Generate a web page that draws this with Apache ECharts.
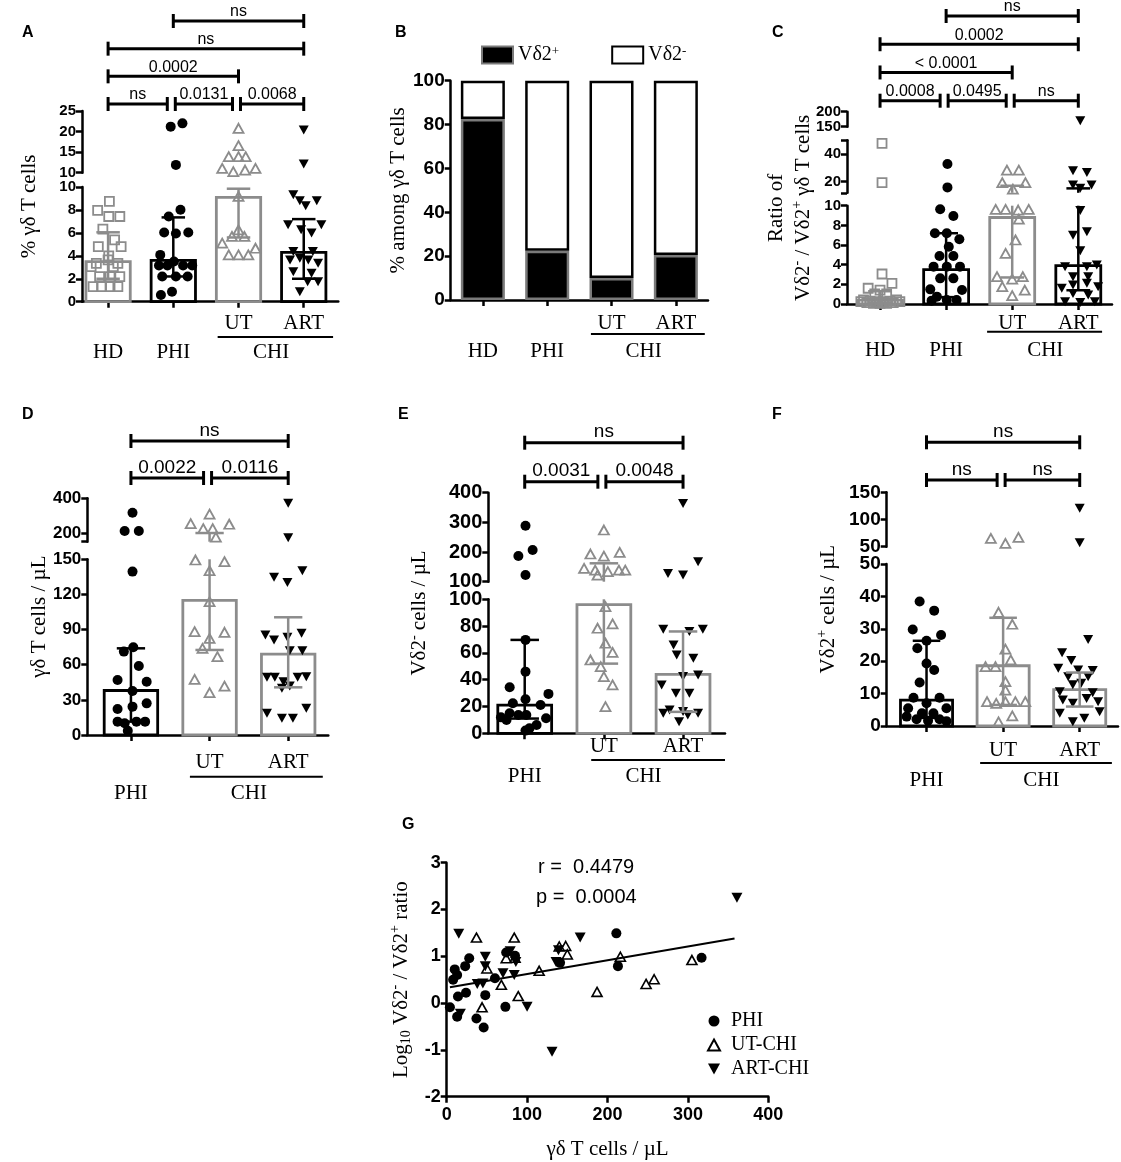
<!DOCTYPE html>
<html><head><meta charset="utf-8">
<script src="https://cdn.jsdelivr.net/npm/echarts@6.0.0/dist/echarts.min.js"></script>
<style>html,body{margin:0;padding:0;background:#fff}#c{width:1121px;height:1162px}</style>
</head><body><div id="c"></div>
<script>
// ================= DATA =================
const catsAC = ['HD', 'PHI', 'UT', 'ART'];
const catsDEF = ['PHI', 'UT', 'ART'];

// Panel A : % γδ T cells
const aHD = [8.75, 7.96, 7.43, 7.43, 6.33, 5.39, 4.81, 4.81, 3.99, 3.64, 3.35, 3.35, 3.06, 3.06, 2.19, 2.19, 2.19, 1.31, 1.31, 1.31, 1.31];
const aHDJit = [0.02, -0.16, 0.01, 0.18, -0.08, 0.10, -0.15, 0.20, 0.01, 0.0, -0.18, 0.15, -0.26, 0.08, -0.13, 0.03, 0.18, -0.23, -0.1, 0.03, 0.15];
const aPHI = [21.2, 22.0, 11.9, 8.02, 7.43, 6.03, 5.95, 6.03, 4.08, 3.15, 3.15, 3.5, 3.15, 3.15, 2.19, 2.19, 2.19, 0.58, 0.87];
const aPHIJit = [-0.04, 0.14, 0.04, 0.11, -0.07, -0.14, 0.04, 0.23, -0.2, -0.22, -0.09, 0.01, 0.15, 0.29, -0.17, 0.04, 0.22, -0.19, -0.02];
const aUT = [20.8, 16.6, 13.9, 13.9, 13.9, 11.05, 10.25, 10.65, 11.05, 9.18, 6.27, 5.69, 5.69, 5.1, 4.66, 4.08, 4.08, 4.08];
const aUTJit = [0, 0, -0.15, 0, 0.11, -0.25, -0.08, 0.1, 0.26, 0, 0, -0.1, 0.09, -0.25, 0.26, -0.15, 0, 0.15];
const aART = [20.4, 12.1, 9.33, 8.8, 8.8, 8.37, 6.71, 6.27, 6.71, 5.98, 4.37, 4.37, 3.64, 3.79, 3.64, 3.35, 2.62, 2.48, 1.75, 1.75, 0.87];
const aARTJit = [0, 0, -0.16, -0.06, 0.2, 0.03, -0.24, -0.04, 0.27, 0.12, -0.16, 0.14, -0.21, -0.06, 0.07, 0.22, -0.16, 0.12, 0.22, 0.06, -0.06];
const aMedian = [3.5, 3.6, 9.1, 4.3];
const aErrLo = [2.0, 2.2, 5.6, 2.0];
const aErrHi = [6.05, 7.35, 9.85, 7.2];
const aBrackets = [[0, 1, 0, 'ns'], [1, 2, 0, '0.0131'], [2, 3, 0, '0.0068'], [0, 2, 1, '0.0002'], [0, 3, 2, 'ns'], [1, 3, 3, 'ns']];
const aLowTicks = [0, 2, 4, 6, 8, 10];
const aHighTicks = [10, 15, 20, 25];

// Panel B : % among γδ T cells
const bPos = [82.5, 22.5, 10, 20.5];
const bNeg = [17.5, 77.5, 90, 79.5];
const bTicks = [0, 20, 40, 60, 80, 100];

// Panel C : ratio Vδ2- / Vδ2+
const cHD = [47.7, 19.3, 3.05, 2.1, 1.6, 1.42, 1.02, 1.02, 0.41, 0.3, 0.24, 0.24, 0.3, 0.41, 0.24, 0.14, 0.07, 0.07, 0.07, 0.14, 0.24];
const cHDJit = [0.03, 0.03, 0.03, 0.18, -0.18, 0, -0.08, 0.1, -0.25, -0.15, -0.05, 0.05, 0.15, 0.25, 0.3, -0.2, -0.1, 0, 0.1, 0.2, -0.29];
const cPHI = [32.8, 15.9, 9.63, 8.95, 7.19, 7.19, 6.58, 5.83, 4.88, 4.88, 3.8, 3.8, 3.8, 2.61, 2.61, 1.49, 1.42, 0.75, 0.41, 0.41, 0.34];
const cPHIJit = [0.02, 0.02, -0.09, 0.11, -0.17, 0.01, 0.2, 0.04, -0.1, 0.11, -0.19, 0.01, 0.21, -0.09, 0.11, -0.24, 0.24, -0.14, 0.01, 0.16, -0.22];
const cUT = [28.4, 28.4, 19.3, 19.3, 14.7, 9.63, 9.63, 9.56, 9.63, 8.64, 6.51, 5.15, 2.78, 2.54, 2.78, 1.76, 1.42, 0.85];
const cUTJit = [-0.08, 0.1, -0.15, 0.2, 0.01, -0.25, -0.1, 0.09, 0.25, 0.1, 0.05, -0.1, -0.23, 0, 0.16, -0.15, 0.19, 0];
const cART = [170, 28, 26.7, 17.6, 17.6, 15.2, 9.5, 7.0, 7.36, 5.42, 3.8, 3.97, 3.8, 2.78, 2.78, 1.6, 1.93, 2.1, 1.76, 1.08, 0.92, 0.24, 0.14, 0.24];
const cARTJit = [0.03, -0.08, 0.13, -0.08, 0.2, 0.03, 0.03, -0.08, 0.13, 0.03, -0.2, 0.28, 0.13, -0.08, 0.15, -0.25, -0.08, 0.13, 0.3, -0.08, 0.15, -0.2, 0.03, 0.25];
const cMedian = [0.4, 3.5, 8.8, 3.9];
const cErrLo = [0.15, 0.7, 2.7, 1.4];
const cErrHi = [1.3, 7.2, 17.1, 15.2];
const cBrackets = [[0, 1, 0, '0.0008'], [1, 2, 0, '0.0495'], [2, 3, 0, 'ns'], [0, 2, 1, '< 0.0001'], [0, 3, 2, '0.0002'], [1, 3, 3, 'ns']];
const cLowTicks = [0, 2, 4, 6, 8, 10];
const cMidTicks = [20, 40];
const cTopTicks = [150, 200];

// Panel D : γδ T cells / µL
const dPHI = [316.5, 211.7, 211.7, 139.5, 71.2, 74.9, 58.9, 47, 45.5, 37.6, 22.2, 24.2, 27, 11.4, 10, 11.4, 11.4, 3.7];
const dPHIJit = [0.02, -0.08, 0.1, 0.02, -0.09, 0.03, 0.1, -0.17, 0.2, 0.02, -0.17, 0.02, 0.2, -0.17, -0.08, 0.07, 0.18, -0.04];
const dUT = [308.7, 254.4, 250.5, 225.2, 225.2, 176.7, 149.4, 148, 140.3, 113.9, 88.2, 87.7, 82.5, 74, 66.9, 47.5, 41.8, 36.2];
const dUTJit = [0, -0.24, 0.25, -0.08, 0.04, 0.08, -0.18, 0.19, 0, 0, -0.19, 0.19, 0, -0.09, 0.1, -0.19, 0.19, 0];
const dART = [370.9, 172.8, 140.3, 134.6, 130.1, 85.4, 81.1, 83.4, 86.8, 72, 72, 49.2, 49.2, 45.5, 41.8, 49.2, 49.8, 39.9, 22.8, 18.5, 14.2, 14.2];
const dARTJit = [0, 0, 0.18, -0.18, -0.01, -0.29, -0.18, -0.01, 0.17, 0.02, 0.18, -0.27, -0.17, -0.06, 0.02, 0.12, 0.23, -0.08, 0.23, -0.27, -0.08, 0.06];
const dMedian = [38, 115, 69];
const dErrLo = [11.4, 72.6, 40.7];
const dErrHi = [74, 200, 100.5];
const dBrackets = [[0, 1, 0, '0.0022'], [1, 2, 0, '0.0116'], [0, 2, 1, 'ns']];
const dLowTicks = [0, 30, 60, 90, 120, 150];
const dHighTicks = [200, 400];

// Panel E : Vδ2- cells / µL
const ePHI = [288.8, 186.5, 206.7, 122.5, 69.7, 46, 34.3, 29.4, 25.4, 22.4, 21.1, 14.9, 13.7, 13.7, 11.9, 11.2, 10, 6.2, 3.7, 2];
const ePHIJit = [0.01, -0.08, 0.1, 0.01, 0.01, 0.01, -0.19, 0.3, 0.01, -0.15, 0.2, -0.19, -0.08, 0.02, -0.3, 0.27, -0.23, 0.15, 0.06, 0.01];
const eUT = [274.2, 193.3, 186.5, 198.9, 144.9, 139.3, 133.7, 139.3, 139.3, 122.5, 94.5, 78.4, 81.6, 67.2, 54.7, 60.4, 49.8, 42.3, 36.1, 19.9];
const eUTJit = [0, -0.17, 0, 0.2, -0.25, -0.11, 0.05, 0.19, 0.27, -0.08, 0.02, -0.08, 0.11, 0.02, -0.17, 0.11, -0.04, 0, 0.11, 0.02];
const eART = [364, 128, 122.5, 167.4, 77.6, 77.6, 75.9, 65.9, 56, 58.5, 36.1, 42.3, 43.5, 29.9, 29.9, 17.4, 16.2, 14.9, 14.9, 13.7, 8.7];
const eARTJit = [0, -0.19, 0, 0.19, -0.25, 0.25, 0.08, -0.12, 0.13, -0.08, -0.27, 0, 0.19, -0.09, 0.08, -0.17, 0, -0.25, 0.19, 0.06, -0.05];
const eMedian = [21, 96, 44];
const eErrLo = [11, 52, 16];
const eErrHi = [69.7, 162, 76];
const eBrackets = [[0, 1, 0, '0.0031'], [1, 2, 0, '0.0048'], [0, 2, 1, 'ns']];
const eLowTicks = [0, 20, 40, 60, 80, 100];
const eHighTicks = [100, 200, 300, 400];

// Panel F : Vδ2+ cells / µL
const fPHI = [38.4, 35.6, 29.8, 28.1, 26.3, 24, 19.3, 17.3, 13.4, 8.7, 8.7, 7, 5.5, 5.5, 3.9, 3.9, 2.9, 2.1, 1.6, 2.1, 1.5];
const fPHIJit = [-0.09, 0.1, -0.18, 0.19, 0, -0.12, 0, 0.1, -0.09, -0.17, 0.17, 0, -0.24, 0.26, -0.06, 0.09, -0.26, -0.13, 0.02, 0.17, 0.26];
const fUT = [65.3, 56.1, 67.2, 35.1, 31.4, 23.7, 18.3, 18.3, 20.4, 13.7, 11.1, 7.5, 7, 7.5, 7.5, 7.5, 3.1, 1.3];
const fUTJit = [-0.16, 0.03, 0.2, -0.06, 0.12, 0.03, -0.23, -0.1, 0.1, 0.03, 0.03, -0.21, -0.09, 0.03, 0.16, 0.29, 0.12, -0.06];
const fART = [120.6, 57.4, 26.7, 22.6, 20.2, 17.8, 17.3, 17.1, 15.2, 15.2, 13.2, 12.7, 10.6, 10.3, 8, 8.5, 7.5, 7, 3.9, 4.4, 2.4, 1.3];
const fARTJit = [0, 0, 0.11, -0.23, -0.11, -0.28, -0.02, 0.17, -0.15, 0.11, 0.02, -0.09, -0.26, 0.17, -0.22, 0.09, 0.24, -0.09, -0.26, 0.26, 0.06, -0.09];
const fMedian = [8, 18.6, 11.2];
const fErrLo = [2.5, 6.5, 6];
const fErrHi = [26.3, 33.4, 16.5];
const fBrackets = [[0, 1, 0, 'ns'], [1, 2, 0, 'ns'], [0, 2, 1, 'ns']];
const fLowTicks = [0, 10, 20, 30, 40, 50];
const fHighTicks = [50, 100, 150];

// Panel G : correlation
const gPHIx = [4, 10, 13, 8, 14, 13, 24, 23, 28, 37, 48, 46, 60, 73, 74, 85, 141, 211, 213, 317];
const gPHIy = [-0.09, 0.72, 0.6, 0.5, 0.14, -0.29, 0.22, 0.79, 0.96, -0.33, 0.17, -0.52, 0.53, -0.08, 1.08, 1.01, 0.86, 1.49, 0.79, 0.97];
const gUTx = [37, 84, 85, 74, 50, 68, 44, 89, 115, 140, 148, 150, 187, 216, 248, 258, 305];
const gUTy = [1.40, 1.40, 0.97, 0.96, 0.74, 0.39, -0.09, 0.15, 0.69, 1.21, 1.22, 1.04, 0.24, 0.99, 0.41, 0.51, 0.92];
const gARTx = [15, 17, 48, 48, 38, 45, 70, 84, 79, 86, 100, 131, 136, 139, 166, 361];
const gARTy = [1.48, -0.23, 0.99, 0.79, 0.41, 0.42, 0.64, 0.6, 1.11, 0.88, -0.08, -1.04, 0.88, 1.13, 1.40, 2.25];
const gFitX = [4, 358];
const gFitY = [0.34, 1.38];
const gYTicks = [-2, -1, 0, 1, 2, 3];

// ================= STYLE / BUILD =================
const FS = 'Liberation Sans, Arial, sans-serif';
const FR = 'Liberation Serif, Times New Roman, serif';
const GRAY = '#8c8c8c';
const INV = 'path://M0,0L10,0L5,9Z';
const BW = 0.68, CAP = 0.18;
const NAME_FS = 21, CAT_FS = 21;
const axisLine = () => ({ color: '#000', width: 2.5 });
const CLEAR = 'rgba(0,0,0,0)';

const symStyles = {
  HD: { symbol: 'rect', size: 9, item: { color: CLEAR, borderColor: GRAY, borderWidth: 1.8, opacity: 1 } },
  PHI: { symbol: 'circle', size: 10, item: { color: '#000', opacity: 1 } },
  UT: { symbol: 'triangle', size: [10, 9], item: { color: CLEAR, borderColor: GRAY, borderWidth: 1.8, opacity: 1 } },
  ART: { symbol: INV, size: [10, 9], item: { color: '#000', opacity: 1 } }
};

const option = {
  animation: false, backgroundColor: '#ffffff',
  grid: [], xAxis: [], yAxis: [], series: [], legend: [], graphic: []
};
function addGrid(l, t, r, b) {
  option.grid.push({ left: l, top: t, width: r - l, height: b - t, outerBoundsMode: 'none', containLabel: false });
  return option.grid.length - 1;
}
function yAxisStyle(labels, ticks, fs) {
  return {
    axisLine: { show: true, onZero: false, lineStyle: axisLine() },
    axisTick: { show: true, customValues: ticks || labels, length: 6, lineStyle: axisLine() },
    axisLabel: { show: true, customValues: labels, margin: 6, fontFamily: FS, fontWeight: 'bold', fontSize: fs || 15, color: '#000' },
    splitLine: { show: false }
  };
}
function catFormatter(cats) {
  return (v) => {
    const c = cats[Math.round(v)];
    return (c === 'UT' || c === 'ART') ? '{s|' + c + '}' : '{m|' + c + '}';
  };
}
function catRich(p) {
  return {
    s: { fontFamily: FR, fontSize: CAT_FS, color: '#000', lineHeight: 2 * p.subOff },
    m: { fontFamily: FR, fontSize: CAT_FS, color: '#000', lineHeight: 2 * p.mainOff }
  };
}
const nameRich = {
  sup: { fontFamily: FR, fontSize: 14, color: '#000', verticalAlign: 'top', lineHeight: 25 },
  sub: { fontFamily: FR, fontSize: 14, color: '#000', verticalAlign: 'bottom', lineHeight: 25 }
};

function addChi(p, xi, yi) {
  option.series.push({
    type: 'custom', xAxisIndex: xi, yAxisIndex: yi, z: 5, silent: true, data: [[0, 0]],
    renderItem: (params, api) => {
      const u = p.cats.indexOf('UT'), r = p.cats.indexOf('ART');
      const cu = api.coord([u, p.baseVal]), cr = api.coord([r, p.baseVal]);
      const band = cr[0] - cu[0];
      const x1 = cu[0] + p.chi[0] * band, x2 = cr[0] + p.chi[1] * band, y0 = cu[1];
      return {
        type: 'group', children: [
          { type: 'line', shape: { x1: x1, y1: y0 + p.lineOff, x2: x2, y2: y0 + p.lineOff }, style: { stroke: '#000', lineWidth: 2 } },
          { type: 'text', style: { text: 'CHI', x: (cu[0] + cr[0]) / 2, y: y0 + p.mainOff, align: 'center', verticalAlign: 'middle', font: CAT_FS + 'px ' + FR, fill: '#000' } }
        ]
      };
    }
  });
}

function addBrackets(p) {
  const gb = addGrid(p.left, p.brTop, p.right, p.brBot);
  const nLev = Math.max.apply(null, p.brackets.map(b => b[2]));
  option.xAxis.push({ gridIndex: gb, type: 'value', min: p.xMin, max: p.xMax, show: false });
  option.yAxis.push({ gridIndex: gb, type: 'value', min: 0, max: nLev, show: false });
  const xi = option.xAxis.length - 1, yi = option.yAxis.length - 1;
  option.series.push({
    type: 'custom', xAxisIndex: xi, yAxisIndex: yi, z: 5, silent: true,
    data: p.brackets.map(b => [b[0], b[2], b[1]]),
    renderItem: (params, api) => {
      const b = p.brackets[params.dataIndex];
      const L = b[2];
      const sharedL = p.brackets.some(o => o !== b && o[2] === L && o[1] === b[0]);
      const sharedR = p.brackets.some(o => o !== b && o[2] === L && o[0] === b[1]);
      const a = api.coord([b[0], L]), c = api.coord([b[1], L]);
      const x1 = a[0] + (sharedL ? 2 : 0), x2 = c[0] - (sharedR ? 6 : 0), y = a[1];
      const st = () => ({ stroke: '#000', lineWidth: 3 });
      return {
        type: 'group', children: [
          { type: 'line', shape: { x1: x1, y1: y, x2: x2, y2: y }, style: st() },
          { type: 'line', shape: { x1: x1, y1: y - 7, x2: x1, y2: y + 7 }, style: st() },
          { type: 'line', shape: { x1: x2, y1: y - 7, x2: x2, y2: y + 7 }, style: st() },
          { type: 'text', style: { text: b[3], x: (x1 + x2) / 2, y: y - 1, align: 'center', verticalAlign: 'bottom', font: p.brFont + 'px ' + FS, fill: '#000' } }
        ]
      };
    }
  });
}

function addYName(p, top, bottom) {
  const gf = addGrid(p.left, top, p.right, bottom);
  option.xAxis.push({ gridIndex: gf, type: 'value', show: false });
  option.yAxis.push({
    gridIndex: gf, type: 'value', min: 0, max: 1,
    axisLine: { show: false }, axisTick: { show: false }, axisLabel: { show: false }, splitLine: { show: false },
    name: p.yName, nameLocation: 'middle', nameGap: p.nameGap, nameRotate: 90,
    nameTextStyle: { fontFamily: FR, fontSize: NAME_FS, color: '#000', lineHeight: p.nameLH || 25, rich: nameRich }
  });
}

function buildPanel(p) {
  const idx = p.cats.map((_, i) => i);
  const last = p.segs.length - 1;
  let lowX, lowY;
  p.segs.forEach((s, si) => {
    const g = addGrid(p.left, s.top, p.right, s.bottom);
    const lower = si === 0;
    option.xAxis.push({
      gridIndex: g, type: 'value', min: p.xMin, max: p.xMax, show: lower,
      axisLine: { show: true, onZero: false, lineStyle: axisLine() },
      axisTick: { show: true, customValues: idx, length: 6, lineStyle: axisLine() },
      axisLabel: { show: true, customValues: idx, margin: 0, formatter: catFormatter(p.cats), rich: catRich(p) },
      splitLine: { show: false }
    });
    option.yAxis.push(Object.assign({ gridIndex: g, type: 'value', min: s.min, max: s.max }, yAxisStyle(s.labels, s.ticks, p.tickFont)));
    const xi = option.xAxis.length - 1, yi = option.yAxis.length - 1;
    if (lower) { lowX = xi; lowY = yi; }
    // median bars
    option.series.push({
      type: 'custom', xAxisIndex: xi, yAxisIndex: yi, z: 2, silent: true,
      data: p.groups.map((gr, i) => [i, gr.med]),
      renderItem: (params, api) => {
        const i = api.value(0), v = api.value(1);
        const lo = Math.max(s.min, 0), hi = Math.min(v, s.max);
        if (!(hi > lo)) return null;
        const a = api.coord([i - BW / 2, hi]), b = api.coord([i + BW / 2, lo]);
        return { type: 'rect', shape: { x: a[0], y: a[1], width: b[0] - a[0], height: b[1] - a[1] }, style: { fill: 'none', stroke: p.groups[i].color, lineWidth: 2.8 } };
      }
    });
    // points
    p.groups.forEach((gr, gi) => {
      const st = symStyles[gr.key];
      const data = [];
      gr.v.forEach((v, k) => {
        const inLow = si === 0 ? v >= s.min : v > s.min;
        const inHigh = si === last ? true : v <= s.max;
        if (inLow && inHigh) data.push([gi + gr.j[k], v]);
      });
      option.series.push({
        type: 'scatter', xAxisIndex: xi, yAxisIndex: yi, z: 3, silent: true,
        symbol: st.symbol, symbolSize: st.size, itemStyle: st.item, data: data
      });
    });
    // IQR whiskers
    option.series.push({
      type: 'custom', xAxisIndex: xi, yAxisIndex: yi, z: 4, silent: true,
      data: p.groups.map((gr, i) => [i, gr.lo, gr.hi]),
      renderItem: (params, api) => {
        const i = api.value(0), lo = api.value(1), hi = api.value(2);
        const col = p.groups[i].color;
        const ch = [];
        const a = Math.max(lo, s.min), b = Math.min(hi, s.max);
        if (b > a) {
          const p1 = api.coord([i, a]), p2 = api.coord([i, b]);
          ch.push({ type: 'line', shape: { x1: p1[0], y1: p1[1], x2: p2[0], y2: p2[1] }, style: { stroke: col, lineWidth: 2.5 } });
        }
        [lo, hi].forEach(v => {
          if (v >= s.min && v <= s.max) {
            const l = api.coord([i - CAP, v]), r = api.coord([i + CAP, v]);
            ch.push({ type: 'line', shape: { x1: l[0], y1: l[1], x2: r[0], y2: r[1] }, style: { stroke: col, lineWidth: 2.5 } });
          }
        });
        return { type: 'group', children: ch };
      }
    });
  });
  addChi(p, lowX, lowY);
  addYName(p, p.segs[last].top, p.segs[0].bottom);
  addBrackets(p);
}

function groups(keys, vals, jits, med, lo, hi, colors) {
  return keys.map((k, i) => ({ key: k, v: vals[i], j: jits[i], med: med[i], lo: lo[i], hi: hi[i], color: colors[i] }));
}

// ---- Panel A
buildPanel({
  cats: catsAC, left: 82, right: 338.3, xMin: -0.4, xMax: 3.53, baseVal: 0, tickFont: 15, brFont: 16,
  segs: [
    { min: 0, max: 10, top: 187, bottom: 301.7, labels: aLowTicks },
    { min: 10, max: 25, top: 111, bottom: 172.7, labels: aHighTicks }
  ],
  groups: groups(catsAC, [aHD, aPHI, aUT, aART], [aHDJit, aPHIJit, aUTJit, aARTJit], aMedian, aErrLo, aErrHi, [GRAY, '#000', GRAY, '#000']),
  subOff: 21.3, mainOff: 50.3, lineOff: 35.3, chi: [-0.32, 0.45],
  brTop: 21, brBot: 104, brackets: aBrackets,
  yName: '% γδ T cells', nameGap: 40
});

// ---- Panel C
buildPanel({
  cats: catsAC, left: 847, right: 1112, xMin: -0.5, xMax: 3.51, baseVal: 0, tickFont: 15, brFont: 16,
  segs: [
    { min: 0, max: 10, top: 205.7, bottom: 304, labels: cLowTicks },
    { min: 12, max: 50, top: 140.2, bottom: 192.8, labels: cMidTicks, ticks: [12, 20, 40, 50] },
    { min: 150, max: 200, top: 111.7, bottom: 126.7, labels: cTopTicks }
  ],
  groups: groups(catsAC, [cHD, cPHI, cUT, cART], [cHDJit, cPHIJit, cUTJit, cARTJit], cMedian, cErrLo, cErrHi, [GRAY, '#000', GRAY, '#000']),
  subOff: 19.3, mainOff: 46, lineOff: 27.7, chi: [-0.38, 0.36],
  brTop: 16, brBot: 100.7, brackets: cBrackets,
  yName: 'Ratio of\nVδ2{sup|-} / Vδ2{sup|+} γδ T cells', nameGap: 30, nameLH: 27
});

// ---- Panel D
buildPanel({
  cats: catsDEF, left: 87.3, right: 328.3, xMin: -0.555, xMax: 2.51, baseVal: 0, tickFont: 17, brFont: 19,
  segs: [
    { min: 0, max: 150, top: 559.3, bottom: 735, labels: dLowTicks },
    { min: 150, max: 400, top: 498.3, bottom: 541.7, labels: dHighTicks, ticks: [150, 200, 400] }
  ],
  groups: groups(catsDEF, [dPHI, dUT, dART], [dPHIJit, dUTJit, dARTJit], dMedian, dErrLo, dErrHi, ['#000', GRAY, GRAY]),
  subOff: 27, mainOff: 58, lineOff: 41.7, chi: [-0.25, 0.44],
  brTop: 441, brBot: 478, brackets: dBrackets,
  yName: 'γδ T cells / µL', nameGap: 35
});

// ---- Panel E
buildPanel({
  cats: catsDEF, left: 488.3, right: 725, xMin: -0.46, xMax: 2.53, baseVal: 0, tickFont: 20, brFont: 19,
  segs: [
    { min: 0, max: 100, top: 599.3, bottom: 733.3, labels: eLowTicks },
    { min: 100, max: 400, top: 492.7, bottom: 581.7, labels: eHighTicks }
  ],
  groups: groups(catsDEF, [ePHI, eUT, eART], [ePHIJit, eUTJit, eARTJit], eMedian, eErrLo, eErrHi, ['#000', GRAY, GRAY]),
  subOff: 13.4, mainOff: 43.4, lineOff: 26.7, chi: [-0.16, 0.53],
  brTop: 442.7, brBot: 481.7, brackets: eBrackets,
  yName: 'Vδ2{sup|-} cells / µL', nameGap: 56
});

// ---- Panel F
buildPanel({
  cats: catsDEF, left: 886.7, right: 1118, xMin: -0.52, xMax: 2.5, baseVal: 0, tickFont: 19, brFont: 19,
  segs: [
    { min: 0, max: 50, top: 564, bottom: 726, labels: fLowTicks },
    { min: 50, max: 150, top: 492.3, bottom: 546.7, labels: fHighTicks }
  ],
  groups: groups(catsDEF, [fPHI, fUT, fART], [fPHIJit, fUTJit, fARTJit], fMedian, fErrLo, fErrHi, ['#000', GRAY, GRAY]),
  subOff: 24, mainOff: 54, lineOff: 37, chi: [-0.3, 0.42],
  brTop: 442.3, brBot: 480, brackets: fBrackets,
  yName: 'Vδ2{sup|+} cells / µL', nameGap: 46
});

// ---- Panel B (stacked bars, category axis)
(function () {
  const p = { cats: catsAC, subOff: 23, mainOff: 51.7, lineOff: 34, chi: [-0.32, 0.45], baseVal: 0 };
  const g = addGrid(450.7, 80.7, 708, 300);
  option.xAxis.push({
    gridIndex: g, type: 'category', data: catsAC, boundaryGap: true,
    axisLine: { show: true, onZero: false, lineStyle: axisLine() },
    axisTick: { show: true, alignWithLabel: true, length: 6, lineStyle: axisLine() },
    axisLabel: { margin: 0, formatter: (v) => (v === 'UT' || v === 'ART') ? '{s|' + v + '}' : '{m|' + v + '}', rich: catRich(p) }
  });
  option.yAxis.push(Object.assign({
    gridIndex: g, type: 'value', min: 0, max: 100, interval: 20,
    name: '% among γδ T cells', nameLocation: 'middle', nameGap: 42, nameRotate: 90,
    nameTextStyle: { fontFamily: FR, fontSize: NAME_FS, color: '#000' }
  }, yAxisStyle(bTicks, null, 19)));
  const xi = option.xAxis.length - 1, yi = option.yAxis.length - 1;
  option.series.push({
    type: 'bar', name: 'Vδ2+', stack: 'b', xAxisIndex: xi, yAxisIndex: yi, barWidth: 44, silent: true,
    itemStyle: { color: '#000', borderColor: '#7a7a7a', borderWidth: 2.5 }, data: bPos
  });
  option.series.push({
    type: 'bar', name: 'Vδ2-', stack: 'b', xAxisIndex: xi, yAxisIndex: yi, barWidth: 44, silent: true,
    itemStyle: { color: '#fff', borderColor: '#000', borderWidth: 2.5 }, data: bNeg
  });
  addChi(p, xi, yi);
  option.legend.push({
    data: ['Vδ2+', 'Vδ2-'], left: 476, top: 40, itemWidth: 31, itemHeight: 17, itemGap: 52, icon: 'rect',
    selectedMode: false,
    formatter: (name) => 'Vδ2{sup|' + name.slice(-1) + '}',
    textStyle: { fontFamily: FR, fontSize: 20, color: '#000', rich: { sup: { fontFamily: FR, fontSize: 13, color: '#000', verticalAlign: 'top' } } }
  });
})();

// ---- Panel G (correlation)
(function () {
  const g = addGrid(446.7, 862.7, 768.3, 1096.7);
  option.xAxis.push({
    gridIndex: g, type: 'value', min: 0, max: 400, interval: 100,
    axisLine: { show: true, onZero: false, lineStyle: axisLine() },
    axisTick: { show: true, length: 6, lineStyle: axisLine() },
    axisLabel: { margin: 9, fontFamily: FS, fontWeight: 'bold', fontSize: 18, color: '#000' },
    splitLine: { show: false },
    name: 'γδ T cells / µL', nameLocation: 'middle', nameGap: 42,
    nameTextStyle: { fontFamily: FR, fontSize: NAME_FS, color: '#000' }
  });
  option.yAxis.push(Object.assign({
    gridIndex: g, type: 'value', min: -2, max: 3, interval: 1,
    name: 'Log{sub|10} Vδ2{sup|-} / Vδ2{sup|+} ratio', nameLocation: 'middle', nameGap: 33, nameRotate: 90,
    nameTextStyle: { fontFamily: FR, fontSize: NAME_FS, color: '#000', lineHeight: 25, rich: nameRich }
  }, yAxisStyle(gYTicks, null, 18)));
  const xi = option.xAxis.length - 1, yi = option.yAxis.length - 1;
  const pts = (xs, ys) => xs.map((x, i) => [x, ys[i]]);
  option.series.push({
    type: 'line', name: 'fit', xAxisIndex: xi, yAxisIndex: yi, z: 2, silent: true, symbol: 'none',
    lineStyle: { color: '#000', width: 2 }, data: pts(gFitX, gFitY)
  });
  option.series.push({ type: 'scatter', name: 'PHI', xAxisIndex: xi, yAxisIndex: yi, z: 3, silent: true, symbol: 'circle', symbolSize: 10, itemStyle: { color: '#000', opacity: 1 }, data: pts(gPHIx, gPHIy) });
  option.series.push({ type: 'scatter', name: 'UT-CHI', xAxisIndex: xi, yAxisIndex: yi, z: 3, silent: true, symbol: 'triangle', symbolSize: [10, 9], itemStyle: { color: CLEAR, borderColor: '#000', borderWidth: 1.6, opacity: 1 }, data: pts(gUTx, gUTy) });
  option.series.push({ type: 'scatter', name: 'ART-CHI', xAxisIndex: xi, yAxisIndex: yi, z: 3, silent: true, symbol: INV, symbolSize: [11, 10], itemStyle: { color: '#000', opacity: 1 }, data: pts(gARTx, gARTy) });
  option.legend.push({
    data: ['PHI', 'UT-CHI', 'ART-CHI'], orient: 'vertical', left: 702, top: 1006, itemWidth: 12, itemHeight: 11, itemGap: 4,
    selectedMode: false, textStyle: { fontFamily: FR, fontSize: 20, color: '#000', padding: [0, 0, 0, 6] }
  });
  option.graphic.push(
    { type: 'text', left: 538, top: 857, style: { text: 'r =  0.4479', font: '20px ' + FS, fill: '#000' } },
    { type: 'text', left: 536, top: 887, style: { text: 'p =  0.0004', font: '20px ' + FS, fill: '#000' } }
  );
})();

// panel letters
[['A', 22, 25], ['B', 395, 25], ['C', 772, 25], ['D', 22, 407], ['E', 398, 407], ['F', 772, 407], ['G', 402, 817]].forEach(l => {
  option.graphic.push({ type: 'text', left: l[1], top: l[2], style: { text: l[0], font: 'bold 16px ' + FS, fill: '#000' } });
});

const chart = echarts.init(document.getElementById('c'), null, { renderer: 'canvas', width: 1121, height: 1162 });
chart.setOption(option);
</script>
</body></html>
